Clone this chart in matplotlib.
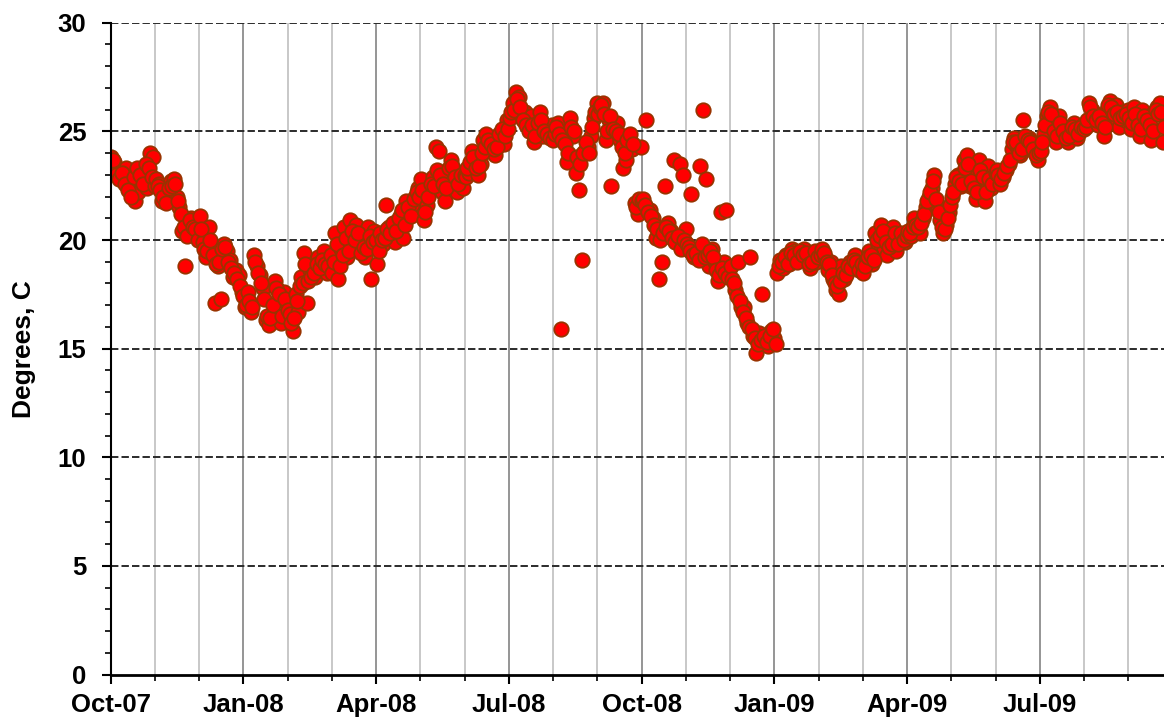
import numpy as np
import pandas as pd
import matplotlib
matplotlib.use("Agg")
import matplotlib.pyplot as plt
from matplotlib.ticker import FixedLocator, MultipleLocator

plt.rcParams['font.family'] = ['Liberation Sans', 'DejaVu Sans']

# ---- data: temperature readings (deg C), listed per month ----
# first half-sample of each month
oct07 = [23.8, 23.6, 23.1, 22.9, 22.7, 23.3, 22.8, 22.5, 21.8, 22.2, 22.9, 23.2, 22.4, 24.0, 23.8]
nov07 = [22.8, 22.6, 21.8, 22.2, 21.9, 22.7, 22.8, 22.0, 21.5, 20.4, 18.8, 20.3, 21.0, 20.8, 20.2]
dec07 = [21.1, 19.9, 19.2, 20.6, 19.6, 17.1, 18.8, 17.3, 19.8, 19.5, 19.1, 18.3, 18.6, 18.4, 17.6]
jan08 = [16.9, 17.6, 16.7, 19.3, 18.8, 18.4, 17.8, 16.3, 16.1, 16.6, 18.1, 17.7, 16.2, 17.6, 17.1]
feb08 = [16.6, 15.8, 17.5, 16.7, 18.3, 19.4, 17.1, 18.6, 18.8, 18.3, 19.2, 18.7, 19.5, 18.5, 19.0]
mar08 = [18.5, 20.3, 18.2, 19.6, 20.6, 19.2, 20.9, 19.8, 20.7, 19.9, 20.1, 19.2, 20.6, 18.2, 20.4]
apr08 = [18.9, 20.3, 19.8, 21.6, 20.6, 20.2, 19.9, 20.7, 21.2, 20.1, 21.8, 21.3, 21.6, 22.0, 22.4]
may08 = [22.8, 20.9, 21.6, 22.4, 22.9, 24.3, 24.1, 22.2, 21.8, 23.0, 23.7, 23.2, 22.2, 22.7, 22.4]
jun08 = [22.9, 23.1, 24.1, 23.6, 23.0, 23.5, 24.6, 24.9, 24.1, 24.5, 23.9, 24.7, 24.9, 24.4, 25.5]
jul08 = [25.6, 26.3, 26.8, 26.6, 25.7, 25.9, 25.4, 25.7, 24.5, 25.1, 25.9, 24.8, 25.2, 24.9, 25.3]
aug08 = [24.9, 25.4, 15.9, 24.5, 23.6, 25.6, 24.8, 23.1, 22.3, 19.1, 24.1, 24.3, 24.8, 25.6, 26.3]
sep08 = [26.1, 26.3, 24.6, 25.5, 22.5, 25.2, 25.4, 24.6, 23.3, 23.7, 24.8, 24.2, 21.7, 21.2, 24.3]
oct08 = [21.9, 25.5, 21.4, 21.0, 20.1, 18.2, 19.0, 22.5, 20.8, 20.4, 23.7, 19.9, 23.5, 23.0, 20.5]
nov08 = [19.7, 22.1, 19.2, 19.4, 23.4, 26.0, 22.8, 18.8, 19.6, 19.0, 18.1, 21.3, 19.0, 21.4, 18.6]
dec08 = [18.2, 17.7, 19.0, 16.9, 16.9, 16.2, 19.2, 15.6, 14.8, 15.7, 17.5, 15.4, 15.1, 15.8, 15.5]
jan09 = [18.5, 19.1, 18.7, 19.3, 18.9, 19.6, 19.5, 19.2, 19.5, 19.6, 19.1, 18.7, 19.3, 19.0, 19.5]
feb09 = [19.6, 19.2, 18.6, 19.0, 18.2, 17.7, 17.5, 18.8, 18.2, 18.6, 19.0, 18.9, 19.3, 18.8, 18.7]
mar09 = [18.5, 19.0, 19.5, 18.9, 20.3, 19.8, 20.7, 19.6, 19.3, 20.1, 20.6, 19.5, 20.1, 20.2, 19.9]
apr09 = [20.4, 20.2, 21.0, 20.5, 20.3, 21.0, 21.5, 22.0, 22.4, 23.0, 21.6, 20.9, 20.3, 20.7, 21.3]
may09 = [22.0, 22.6, 23.0, 22.5, 23.7, 23.9, 22.5, 22.9, 21.9, 23.7, 22.8, 21.8, 23.4, 22.4, 22.9]
jun09 = [23.2, 22.6, 22.9, 23.2, 23.5, 24.2, 24.7, 24.3, 23.9, 25.5, 24.4, 24.7, 24.4, 24.0, 23.7]
jul09 = [24.1, 24.9, 25.7, 26.1, 25.2, 24.5, 25.7, 25.2, 24.9, 24.5, 25.0, 25.4, 24.7, 25.0, 25.3]
aug09 = [25.2, 26.3, 26.0, 25.8, 25.3, 25.6, 24.8, 26.0, 26.4, 25.5, 26.2, 25.2, 25.9, 25.5, 26.0]
sep09 = [25.1, 26.1, 25.5, 24.8, 26.0, 25.2, 25.6, 24.6, 25.9, 26.1, 26.3, 24.5]

# second half-sample (the in-between days) of each month
oct07b = [23.7, 23.0, 22.8, 23.1, 22.6, 22.3, 22.0, 22.9, 23.3, 23.0, 22.6, 23.5, 23.3, 22.9, 22.5]
nov07b = [22.5, 22.3, 22.0, 21.7, 22.4, 22.5, 22.6, 21.8, 21.2, 20.6, 20.2, 20.9, 20.6, 20.5, 20.0]
dec07b = [20.5, 19.6, 19.5, 20.0, 19.3, 18.9, 19.0, 19.6, 19.7, 19.0, 18.7, 18.5, 18.2, 17.9, 17.4]
jan08b = [17.0, 17.2, 16.9, 19.0, 18.5, 18.0, 17.3, 16.5, 16.4, 17.0, 17.8, 17.5, 16.5, 17.3, 16.8]
feb08b = [16.2, 16.4, 17.2, 17.9, 18.0, 18.9, 18.1, 18.3, 18.5, 18.9, 18.7, 19.1, 18.9, 18.8, 19.3]
mar08b = [19.0, 19.8, 18.8, 19.3, 20.1, 19.5, 20.4, 20.0, 20.3, 19.4, 19.7, 19.6, 20.2, 19.9, 20.0]
apr08b = [19.5, 20.0, 20.1, 20.5, 20.3, 20.8, 20.4, 21.0, 21.4, 20.7, 21.5, 21.1, 21.9, 22.2, 22.0]
may08b = [22.3, 21.3, 22.0, 22.6, 22.5, 23.2, 23.0, 22.6, 22.4, 23.3, 23.4, 22.9, 22.6, 23.0, 23.0]
jun08b = [23.3, 23.6, 23.8, 23.3, 23.4, 24.0, 24.3, 24.6, 24.4, 24.2, 24.3, 24.9, 25.1, 24.8, 25.1]
jul08b = [25.9, 26.0, 26.5, 26.1, 25.5, 25.3, 25.0, 25.3, 24.8, 25.4, 25.5, 25.0, 24.9, 24.7, 24.6]
aug08b = [25.2, 24.9, 24.6, 24.4, 24.0, 25.2, 25.0, 23.8, 23.5, 24.0, 24.5, 24.0, 25.2, 25.9, 25.8]
sep08b = [26.2, 25.8, 25.0, 25.7, 25.1, 25.0, 24.9, 24.3, 24.0, 24.6, 24.9, 24.4, 21.5, 21.9, 21.8]
oct08b = [21.6, 21.3, 21.1, 20.7, 20.5, 20.0, 20.3, 20.6, 20.4, 20.1, 19.9, 20.2, 19.6, 20.0, 19.8]
nov08b = [19.5, 19.3, 19.4, 19.1, 19.8, 19.2, 19.3, 19.5, 19.2, 18.6, 18.4, 18.7, 18.5, 18.3, 18.8]
dec08b = [18.0, 17.4, 17.2, 16.7, 16.4, 16.0, 15.9, 15.5, 15.2, 15.4, 15.6, 15.3, 15.6, 15.9, 15.2]
jan09b = [18.8, 19.0, 19.2, 18.9, 19.4, 19.3, 19.0, 19.5, 19.3, 19.4, 18.9, 19.0, 19.5, 19.2, 19.3]
feb09b = [19.4, 19.0, 18.9, 18.4, 18.0, 17.9, 18.1, 18.5, 18.4, 18.8, 18.7, 19.1, 19.0, 18.6, 18.9]
mar09b = [18.8, 19.2, 19.3, 19.1, 20.0, 20.2, 20.4, 19.9, 19.7, 19.8, 20.3, 19.8, 20.3, 20.0, 20.2]
apr09b = [20.3, 20.6, 20.7, 20.6, 20.8, 21.2, 21.8, 22.2, 22.7, 21.9, 21.3, 20.6, 20.5, 21.0, 21.6]
may09b = [22.2, 22.9, 22.7, 22.6, 23.3, 23.5, 22.7, 22.4, 22.2, 23.2, 22.9, 22.2, 22.8, 22.6, 23.1]
jun09b = [23.0, 22.8, 23.1, 23.4, 23.7, 24.5, 24.5, 24.0, 24.2, 24.8, 24.6, 24.5, 24.2, 23.9, 24.0]
jul09b = [24.5, 25.3, 25.9, 25.8, 25.0, 24.8, 25.4, 25.0, 24.7, 24.8, 25.2, 25.1, 24.9, 25.2, 25.1]
aug09b = [25.5, 26.1, 25.7, 25.5, 25.7, 25.4, 25.2, 26.2, 26.1, 25.8, 25.9, 25.6, 25.7, 25.8, 25.6]
sep09b = [25.4, 25.8, 25.3, 25.1, 25.7, 25.5, 25.3, 25.0, 26.0, 25.8, 25.9, 25.2]

first_half = [oct07, nov07, dec07, jan08, feb08, mar08, apr08, may08, jun08, jul08, aug08, sep08,
              oct08, nov08, dec08, jan09, feb09, mar09, apr09, may09, jun09, jul09, aug09, sep09]
second_half = [oct07b, nov07b, dec07b, jan08b, feb08b, mar08b, apr08b, may08b, jun08b, jul08b,
               aug08b, sep08b, oct08b, nov08b, dec08b, jan09b, feb09b, mar09b, apr09b, may09b,
               jun09b, jul09b, aug09b, sep09b]
month_starts = pd.date_range("2007-10-01", periods=24, freq="MS")
tick_labels = ["Oct-07", "Jan-08", "Apr-08", "Jul-08", "Oct-08", "Jan-09", "Apr-09", "Jul-09"]

origin = pd.Timestamp("2007-10-01")
xs, ys = [], []
for start, va, vb in zip(month_starts, first_half, second_half):
    step = start.days_in_month / 15.0
    for offset, vals in ((0.0, va), (0.5, vb)):
        for i, v in enumerate(vals):
            d = start + pd.Timedelta(days=(i + offset) * step + 0.3)
            xs.append((d - origin) / pd.Timedelta(days=1))
            ys.append(v)

# ---- figure ----
W, H = 1164, 721
fig = plt.figure(figsize=(W / 100, H / 100), dpi=100)
left, right, top, bottom = 110.6, 1164, 22.7, 674.6
ax = fig.add_axes([left / W, (H - bottom) / H, (right - left) / W, (bottom - top) / H])

month_len = 730 / 24.0
px_per_day = 44.25 / month_len
ax.set_xlim(0, (right - left) / px_per_day)
ax.set_ylim(0, 30)

# vertical grid: monthly light, quarterly darker
for k in range(1, 25):
    xv = k * month_len
    if k % 3 == 0:
        ax.axvline(xv, color="#8c8c8c", lw=1.3, zorder=1)
    else:
        ax.axvline(xv, color="#c4c4c4", lw=1.3, zorder=1)
# horizontal dashed grid
for yv in range(5, 31, 5):
    ax.axhline(yv, color="#2b2b2b", lw=1.4, ls=(0, (3.8, 1.6)), zorder=1)

ax.plot(xs, ys, linestyle="none", marker="o", markersize=10.4,
        markerfacecolor="#ff0000", markeredgecolor="#993300", markeredgewidth=1.3,
        zorder=3, clip_on=True)

ax.xaxis.set_major_locator(FixedLocator([k * 3 * month_len for k in range(8)]))
ax.xaxis.set_minor_locator(FixedLocator([k * month_len for k in range(25) if k % 3]))
ax.set_xticklabels(tick_labels)
ax.yaxis.set_major_locator(MultipleLocator(5))
ax.yaxis.set_minor_locator(MultipleLocator(1))

for s in ["top", "right"]:
    ax.spines[s].set_visible(False)
ax.spines["left"].set_linewidth(1.5)
ax.spines["bottom"].set_linewidth(2.0)
ax.spines["left"].set_zorder(4)
ax.spines["bottom"].set_zorder(4)

ax.tick_params(axis="both", which="major", direction="out", length=6.5, width=1.5,
               labelsize=18.5)
ax.tick_params(axis="both", which="minor", direction="out", length=4.5, width=1.2)
ax.tick_params(axis="y", which="major", pad=11)
ax.tick_params(axis="x", which="major", pad=7)
for lab in ax.get_xticklabels() + ax.get_yticklabels():
    lab.set_fontweight("bold")

ax.set_ylabel("Degrees, C", fontsize=19, fontweight="bold")
ax.yaxis.set_label_coords((36 - left) / (right - left), 0.5)

fig.savefig("out.png", dpi=100)
